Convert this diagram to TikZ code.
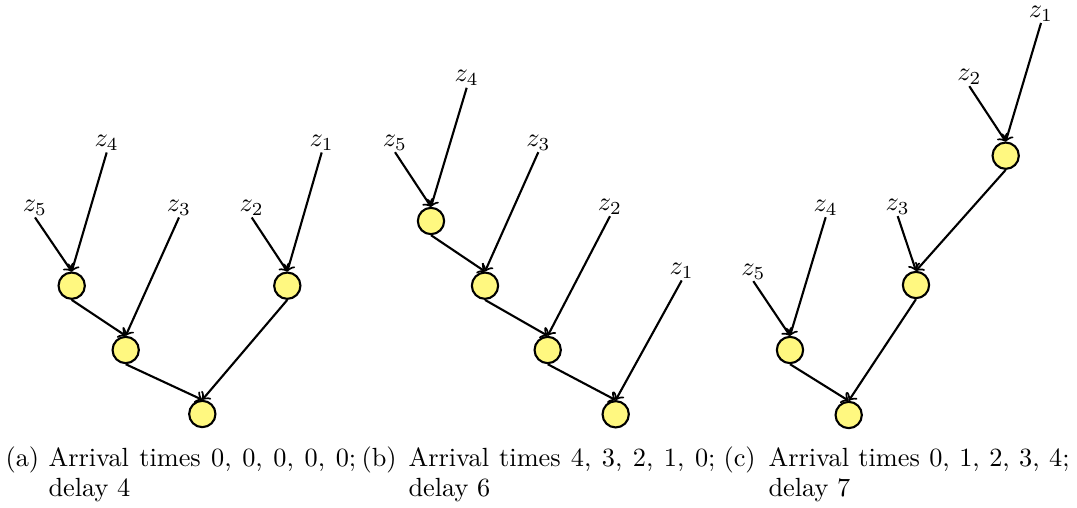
\documentclass[tikz,border=0pt]{standalone}
\begin{document}
\begin{tikzpicture}[x=0.3802pt,y=-0.3802pt,
  gate/.style={circle,draw,thick,fill=yellow!50,inner sep=0pt,minimum size=10pt},
  inp/.style={inner sep=0.5pt},
  edge/.style={->,thick},
  captext/.style={anchor=base west,inner sep=0pt}]
\useasboundingbox (0,0) rectangle (1077,508);
% (a)
\node[gate] (a1) at (71.7,285.7) {};
\node[gate] (a2) at (287.3,285.7) {};
\node[gate] (a3) at (125.7,350) {};
\node[gate] (a4) at (202.3,414) {};
\node[inp] (az4) at (106.7,143) {$z_4$};
\node[inp] (az1) at (321.7,143) {$z_1$};
\node[inp] (az5) at (35,208) {$z_5$};
\node[inp] (az3) at (179,208) {$z_3$};
\node[inp] (az2) at (251.7,208) {$z_2$};
\draw[edge] (az5.south) -- (a1.north);
\draw[edge] (az4.south) -- (a1.north);
\draw[edge] (a1.south) -- (a3.north);
\draw[edge] (az3.south) -- (a3.north);
\draw[edge] (a3.south) -- (a4.north);
\draw[edge] (az2.south) -- (a2.north);
\draw[edge] (az1.south) -- (a2.north);
\draw[edge] (a2.south) -- (a4.north);
% (b)
\node[gate] (b1) at (431,221) {};
\node[gate] (b2) at (485,285.7) {};
\node[gate] (b3) at (547.7,350) {};
\node[gate] (b4) at (615.7,414.3) {};
\node[inp] (bz4) at (466.7,78.3) {$z_4$};
\node[inp] (bz5) at (395,142.7) {$z_5$};
\node[inp] (bz3) at (538.3,142.7) {$z_3$};
\node[inp] (bz2) at (610,206.7) {$z_2$};
\node[inp] (bz1) at (681.7,271) {$z_1$};
\draw[edge] (bz5.south) -- (b1.north);
\draw[edge] (bz4.south) -- (b1.north);
\draw[edge] (b1.south) -- (b2.north);
\draw[edge] (bz3.south) -- (b2.north);
\draw[edge] (b2.south) -- (b3.north);
\draw[edge] (bz2.south) -- (b3.north);
\draw[edge] (b3.south) -- (b4.north);
\draw[edge] (bz1.south) -- (b4.north);
% (c)
\node[gate] (c1) at (1005.7,155.7) {};
\node[gate] (c2) at (916,285) {};
\node[gate] (c3) at (790,350) {};
\node[gate] (c4) at (848.7,415) {};
\node[inp] (cz1) at (1041,13.5) {$z_1$};
\node[inp] (cz2) at (969.3,76.7) {$z_2$};
\node[inp] (cz4) at (825.7,207.7) {$z_4$};
\node[inp] (cz3) at (897.7,206.7) {$z_3$};
\node[inp] (cz5) at (753.3,271.7) {$z_5$};
\draw[edge] (cz2.south) -- (c1.north);
\draw[edge] (cz1.south) -- (c1.north);
\draw[edge] (c1.south) -- (c2.north);
\draw[edge] (cz3.south) -- (c2.north);
\draw[edge] (c2.south) -- (c4.north);
\draw[edge] (cz5.south) -- (c3.north);
\draw[edge] (cz4.south) -- (c3.north);
\draw[edge] (c3.south) -- (c4.north);
% captions
\node[captext] (capa0) at (5,466.7) {(a)};
\node[captext] (capa1) at (48,466.7) {\hbox to 117pt{Arrival times 0, 0, 0, 0, 0;}};
\node[captext] (capa2) at (48,497) {delay 4};
\node[captext] (capb0) at (361,466.7) {(b)};
\node[captext] (capb1) at (408,466.7) {\hbox to 116.7pt{Arrival times 4, 3, 2, 1, 0;}};
\node[captext] (capb2) at (408,497) {delay 6};
\node[captext] (capc0) at (723,466.7) {(c)};
\node[captext] (capc1) at (768,466.7) {\hbox to 114.5pt{Arrival times 0, 1, 2, 3, 4;}};
\node[captext] (capc2) at (768,497) {delay 7};
\end{tikzpicture}
\end{document}
